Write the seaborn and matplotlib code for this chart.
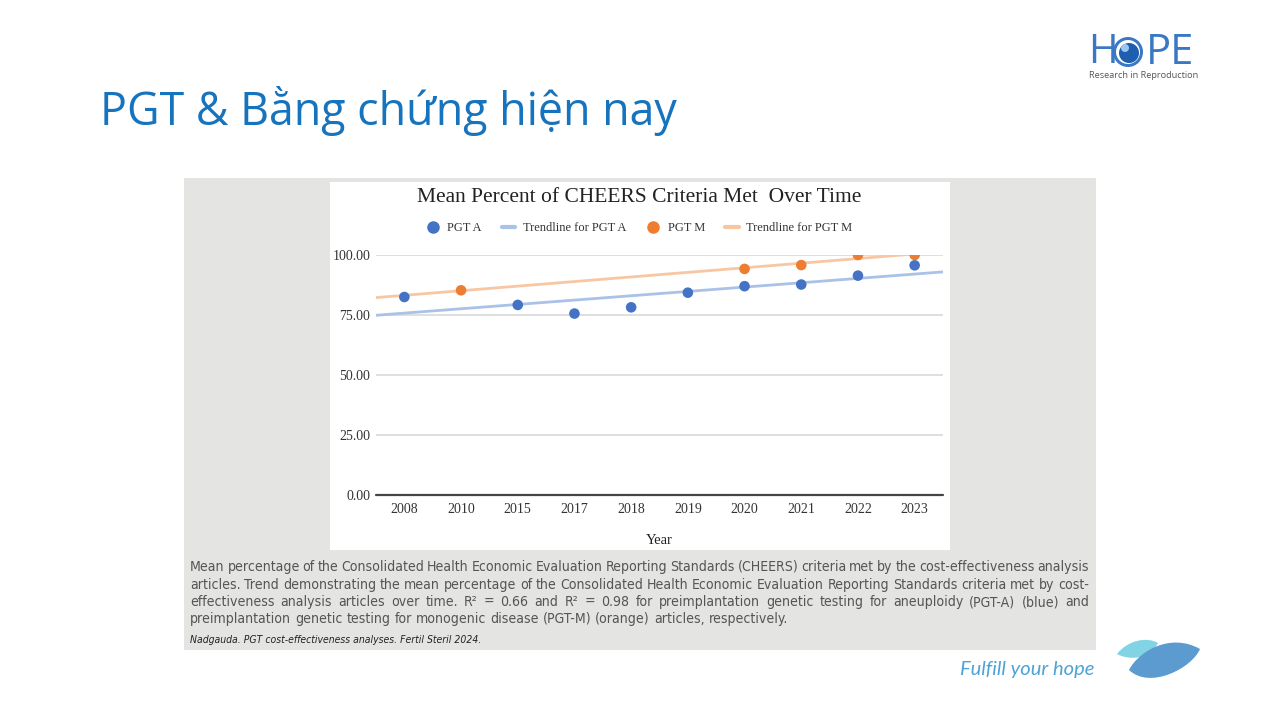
import numpy as np
import pandas as pd
import matplotlib
matplotlib.use("Agg")
import matplotlib.pyplot as plt
from matplotlib.patches import Rectangle, Circle, PathPatch
from matplotlib.path import Path
from matplotlib.lines import Line2D
import seaborn as sns

# ---------------- data ----------------
years = ["2008", "2010", "2015", "2017", "2018", "2019", "2020", "2021", "2022", "2023"]
pgt_a_years = ["2008", "2015", "2017", "2018", "2019", "2020", "2021", "2022", "2023"]
pgt_a_values = [82.5, 79.2, 75.6, 78.2, 84.3, 87.0, 87.7, 91.4, 95.7]
pgt_m_years = ["2010", "2020", "2021", "2022", "2023"]
pgt_m_values = [85.3, 94.2, 95.8, 100.0, 100.0]
y_ticks = [0, 25, 50, 75, 100]
y_tick_labels = ["0.00", "25.00", "50.00", "75.00", "100.00"]
legend_labels = ["PGT A", "Trendline for PGT A", "PGT M", "Trendline for PGT M"]

caption_lines = [
    "Mean percentage of the Consolidated Health Economic Evaluation Reporting Standards (CHEERS) criteria met by the cost-effectiveness analysis",
    "articles. Trend demonstrating the mean percentage of the Consolidated Health Economic Evaluation Reporting Standards criteria met by cost-",
    "effectiveness analysis articles over time. R\u00b2 = 0.66 and R\u00b2 = 0.98 for preimplantation genetic testing for aneuploidy (PGT-A) (blue) and",
    "preimplantation genetic testing for monogenic disease (PGT-M) (orange) articles, respectively.",
]

BLUE = "#4472C4"
ORANGE = "#ED7D31"
BLUE_T = "#A9C2E8"
ORANGE_T = "#F8C6A3"

sns.set_theme(style="white")
plt.rcParams["font.family"] = ["DejaVu Sans"]

W, H = 1280, 720
fig = plt.figure(figsize=(W / 100, H / 100), dpi=100)
fig.patch.set_facecolor("white")

def fx(px):
    return px / W

def fy(py):
    return 1 - py / H

# background axes in pixel coordinates
bg = fig.add_axes([0, 0, 1, 1], zorder=0)
bg.set_xlim(0, W)
bg.set_ylim(H, 0)
bg.axis("off")

bg.add_patch(Rectangle((184, 178), 912, 472, facecolor="#E4E4E3", edgecolor="none"))
bg.add_patch(Rectangle((330, 182), 620, 368, facecolor="white", edgecolor="none"))

# slide title
bg.text(100, 111, "PGT & B\u1eb1ng ch\u1ee9ng hi\u1ec7n nay", family=["Open Sans", "DejaVu Sans"],
        fontsize=32.2, color="#1673BD", ha="left", va="center")

# HOPE logo
logo_c = "#3B78C3"
bg.text(1088, 53, "H", family=["Open Sans", "DejaVu Sans"], fontsize=29,
        color=logo_c, ha="left", va="center")
bg.add_patch(Circle((1128, 52), 15, facecolor=logo_c, edgecolor="none"))
bg.add_patch(Circle((1128, 52), 12, facecolor="white", edgecolor="none"))
bg.add_patch(Circle((1129, 53), 10, facecolor="#1E5EAE", edgecolor="none"))
bg.add_patch(Circle((1125, 48), 4, facecolor="#9CC6EE", edgecolor="none"))
bg.text(1146, 53, "PE", family=["Open Sans", "DejaVu Sans"], fontsize=30,
        color=logo_c, ha="left", va="center")
bg.text(1144, 76, "Research in Reproduction", family=["Open Sans", "DejaVu Sans"], fontsize=6.6,
        color="#555555", ha="center", va="center")

# Fulfill your hope
bg.text(1027, 670, "Fulfill your hope", family=["Lato", "DejaVu Sans"], style="italic",
        fontsize=14.5, color="#4DA3D6", ha="center", va="center")

def leaf(a, b, u1, u2, l1, l2, color):
    verts = [a, u1, u2, b, l2, l1, a]
    codes = [Path.MOVETO, Path.CURVE4, Path.CURVE4, Path.CURVE4,
             Path.CURVE4, Path.CURVE4, Path.CURVE4]
    bg.add_patch(PathPatch(Path(verts, codes), facecolor=color, edgecolor="none"))

leaf((1117, 654), (1158, 643), (1127, 641), (1146, 636), (1130, 661), (1150, 659), "#80D4E4")
leaf((1129, 670), (1200, 649), (1138, 652), (1170, 632), (1150, 690), (1192, 668), "#5B9BD0")

# ---------------- chart ----------------
ax = fig.add_axes([fx(376), fy(495), fx(943) - fx(376), (495 - 255) / H], zorder=2)
ax.set_facecolor("none")

idx = {y: i for i, y in enumerate(years)}
df_a = pd.DataFrame({"x": [idx[y] for y in pgt_a_years], "value": pgt_a_values, "series": "PGT A"})
df_m = pd.DataFrame({"x": [idx[y] for y in pgt_m_years], "value": pgt_m_values, "series": "PGT M"})
df = pd.concat([df_a, df_m], ignore_index=True)

ax.set_xlim(-0.5, len(years) - 0.5)
ax.set_ylim(0, 100)

for yv in y_ticks[1:]:
    ax.axhline(yv, color="#D9D9D9", lw=1.2, zorder=0)
ax.axhline(0, color="#444444", lw=1.6, zorder=1, clip_on=False)

sns.regplot(data=df_a, x="x", y="value", scatter=False, ci=None, truncate=False,
            line_kws=dict(color=BLUE_T, lw=2, zorder=2), ax=ax)
sns.regplot(data=df_m, x="x", y="value", scatter=False, ci=None, truncate=False,
            line_kws=dict(color=ORANGE_T, lw=2, zorder=2), ax=ax)
sns.scatterplot(data=df, x="x", y="value", hue="series",
                palette={"PGT A": BLUE, "PGT M": ORANGE}, s=58, edgecolor="none",
                legend=False, ax=ax, zorder=3)

ax.set_xlim(-0.5, len(years) - 0.5)
ax.set_ylim(0, 100)
for s in ax.spines.values():
    s.set_visible(False)
ax.set_xticks(range(len(years)))
ax.set_xticklabels(years)
ax.set_yticks(y_ticks)
ax.set_yticklabels(y_tick_labels)
ax.tick_params(axis="both", length=0, labelsize=10, colors="#333333")
ax.tick_params(axis="x", pad=5.5)
ax.tick_params(axis="y", pad=4)
for lab in ax.get_xticklabels() + ax.get_yticklabels():
    lab.set_family(["Liberation Serif", "DejaVu Serif"])
ax.set_xlabel("Year", family=["Liberation Serif", "DejaVu Serif"], fontsize=10.5,
              color="#222222", labelpad=13)
ax.set_ylabel("")
ax.grid(False)

fig.text(fx(639), fy(197.5), "Mean Percent of CHEERS Criteria Met  Over Time",
         family=["Liberation Serif", "DejaVu Serif"], fontsize=15.5, color="#222222",
         ha="center", va="center")

handles = [
    Line2D([], [], ls="none", marker="o", markersize=8, color=BLUE),
    Line2D([], [], color=BLUE_T, lw=3),
    Line2D([], [], ls="none", marker="o", markersize=8, color=ORANGE),
    Line2D([], [], color=ORANGE_T, lw=3),
]
fig.legend(handles, legend_labels, ncol=4, loc="center", bbox_to_anchor=(fx(639), fy(228)),
           frameon=False, prop={"family": ["Liberation Serif", "DejaVu Serif"], "size": 9},
           handlelength=1.1, handletextpad=0.6, columnspacing=1.6, labelcolor="#333333")

# ---------------- caption (justified) ----------------
cap_kw = dict(family=["DejaVu Sans"], fontstretch="condensed", fontsize=10.1, color="#555555")
x0, x1 = 190, 1089
line_base = [571, 589, 606, 623]
renderer = fig.canvas.get_renderer()
sp = bg.text(0, 0, "a a", **cap_kw)
sp2 = bg.text(0, 0, "aa", **cap_kw)
space = sp.get_window_extent(renderer).width - sp2.get_window_extent(renderer).width
sp.remove(); sp2.remove()
for i, (line, yy) in enumerate(zip(caption_lines, line_base)):
    words = line.split(" ")
    objs = [bg.text(0, yy, w, ha="left", va="baseline", **cap_kw) for w in words]
    widths = [o.get_window_extent(renderer).width for o in objs]
    if i < len(caption_lines) - 1:
        gap = (x1 - x0 - sum(widths)) / (len(words) - 1)
        gap = max(gap, 0.5 * space)
    else:
        gap = space
    xp = x0
    for o, w in zip(objs, widths):
        o.set_x(xp)
        xp += w + gap

bg.text(190, 643, "Nadgauda. PGT cost-effectiveness analyses. Fertil Steril 2024.",
        family=["DejaVu Sans"], fontstretch="condensed", style="italic", fontsize=7.5,
        color="#222222", ha="left", va="baseline")

fig.savefig("out.png", dpi=100, facecolor="white")
